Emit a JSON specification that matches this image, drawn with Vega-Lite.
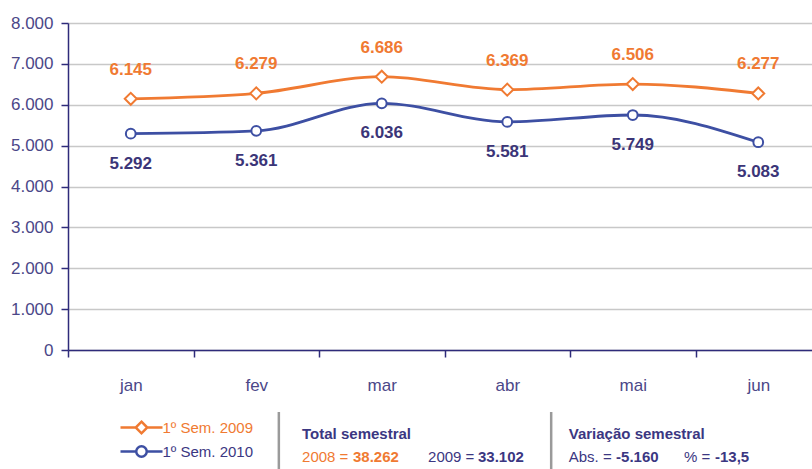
{
  "$schema": "https://vega.github.io/schema/vega-lite/v6.json",
  "width": 753,
  "height": 327,
  "autosize": {"type": "none"},
  "padding": {"left": 68, "top": 23, "right": 0, "bottom": 119},
  "background": "white",
  "config": {
    "locale": {"number": {"decimal": ",", "thousands": ".", "grouping": [3], "currency": ["", " €"]}},
    "view": {"stroke": null},
    "font": "Liberation Sans",
    "legend": {"padding": 0}
  },
  "layer": [
    {
      "data": {
        "values": [
          {"mes": "jan", "serie": "1º Sem. 2009", "valor": 6145},
          {"mes": "fev", "serie": "1º Sem. 2009", "valor": 6279},
          {"mes": "mar", "serie": "1º Sem. 2009", "valor": 6686},
          {"mes": "abr", "serie": "1º Sem. 2009", "valor": 6369},
          {"mes": "mai", "serie": "1º Sem. 2009", "valor": 6506},
          {"mes": "jun", "serie": "1º Sem. 2009", "valor": 6277},
          {"mes": "jan", "serie": "1º Sem. 2010", "valor": 5292},
          {"mes": "fev", "serie": "1º Sem. 2010", "valor": 5361},
          {"mes": "mar", "serie": "1º Sem. 2010", "valor": 6036},
          {"mes": "abr", "serie": "1º Sem. 2010", "valor": 5581},
          {"mes": "mai", "serie": "1º Sem. 2010", "valor": 5749},
          {"mes": "jun", "serie": "1º Sem. 2010", "valor": 5083}
        ]
      },
      "encoding": {
        "x": {
          "field": "mes", "type": "nominal",
          "scale": {"type": "band", "domain": ["jan", "fev", "mar", "abr", "mai", "jun"], "paddingInner": 0, "paddingOuter": 0},
          "axis": {
            "title": null, "labelAngle": 0, "tickBand": "extent", "tickSize": 7, "tickColor": "#2e2b7a", "tickWidth": 1.5,
            "domainColor": "#2e2b7a", "domainWidth": 1.5, "labelFont": "Liberation Sans", "labelFontSize": 17,
            "labelColor": "#4b4788", "labelPadding": 20, "grid": false
          }
        },
        "y": {
          "field": "valor", "type": "quantitative",
          "scale": {"domain": [0, 8000], "nice": false},
          "axis": {
            "title": null, "values": [0, 1000, 2000, 3000, 4000, 5000, 6000, 7000, 8000], "format": ",d",
            "tickSize": 7, "tickColor": "#2e2b7a", "tickWidth": 1.5, "domainColor": "#2e2b7a", "domainWidth": 1.5,
            "grid": true, "gridColor": "#c8c8c8", "gridWidth": 1.5, "labelFont": "Liberation Sans",
            "labelFontSize": 17, "labelColor": "#4b4788", "labelPadding": 8
          }
        },
        "color": {
          "field": "serie", "type": "nominal",
          "scale": {"domain": ["1º Sem. 2009", "1º Sem. 2010"], "range": ["#f07a32", "#3d4fa3"]},
          "legend": {
            "title": null, "orient": "none", "legendX": 61.5, "legendY": 392.5, "symbolSize": 441, "symbolStrokeWidth": 2.5,
            "symbolFillColor": "white", "symbolOpacity": 1,
            "labelFont": "Liberation Sans", "labelFontSize": 15, "labelOffset": 9, "rowPadding": 1, "padding": 0,
            "encode": {
              "symbols": {"update": {
                "shape": {"signal": "datum.value === '1º Sem. 2009' ? 'M-2,0H-0.55M0.55,0H2M0,-0.55L0.55,0L0,0.55L-0.55,0Z' : 'M-2,0H-0.5M0.5,0H2M0.5,0A0.5,0.5 0 1 1 -0.5,0A0.5,0.5 0 1 1 0.5,0Z'"},
                "fill": {"value": "white"}, "fillOpacity": {"value": 1}, "opacity": {"value": 1}
              }},
              "labels": {"update": {"fill": {"signal": "datum.value === '1º Sem. 2009' ? '#f07a32' : '#3b3782'"}}}
            }
          }
        }
      },
      "layer": [
        {
          "mark": {"type": "line", "interpolate": "monotone", "strokeWidth": 2.8}
        },
        {
          "transform": [{"filter": "datum.serie === '1º Sem. 2009'"}],
          "mark": {"type": "point", "shape": "diamond", "size": 144, "filled": false, "fill": "white", "fillOpacity": 1, "opacity": 1, "strokeWidth": 2}
        },
        {
          "transform": [{"filter": "datum.serie === '1º Sem. 2010'"}],
          "mark": {"type": "point", "shape": "circle", "size": 95, "filled": false, "fill": "white", "fillOpacity": 1, "opacity": 1, "strokeWidth": 2}
        },
        {
          "transform": [{"filter": "datum.serie === '1º Sem. 2009'"}],
          "mark": {"type": "text", "dy": -29, "fontWeight": "bold", "fontSize": 17, "font": "Liberation Sans", "color": "#f07a32", "baseline": "middle"},
          "encoding": {"text": {"field": "valor", "type": "quantitative", "format": ",d"}, "color": {"value": "#f07a32"}}
        },
        {
          "transform": [{"filter": "datum.serie === '1º Sem. 2010'"}],
          "mark": {"type": "text", "dy": 30, "fontWeight": "bold", "fontSize": 17, "font": "Liberation Sans", "color": "#3b3578", "baseline": "middle"},
          "encoding": {"text": {"field": "valor", "type": "quantitative", "format": ",d"}, "color": {"value": "#3b3578"}}
        }
      ]
    },
    {
      "data": {"values": [{"ref": "fev"}]},
      "mark": {"type": "rule", "color": "#9a9a9a", "strokeWidth": 2.5},
      "encoding": {"x": {"datum": "fev", "bandPosition": 0.68}, "y": {"datum": -1517}, "y2": {"datum": -3000}}
    },
    {
      "data": {"values": [{"ref": "abr"}]},
      "mark": {"type": "rule", "color": "#9a9a9a", "strokeWidth": 2.5},
      "encoding": {"x": {"datum": "abr", "bandPosition": 0.85}, "y": {"datum": -1517}, "y2": {"datum": -3000}}
    },
    {
      "data": {"values": [{"t": "Total semestral"}]},
      "mark": {"type": "text", "align": "left", "baseline": "middle", "fontWeight": "bold", "fontSize": 15, "font": "Liberation Sans", "color": "#3b3782"},
      "encoding": {"x": {"datum": "fev", "bandPosition": 0.865}, "y": {"datum": -2055}, "text": {"field": "t", "type": "nominal"}}
    },
    {
      "data": {"values": [{"t": "2008  ="}]},
      "mark": {"type": "text", "align": "left", "baseline": "middle", "fontSize": 15, "font": "Liberation Sans", "color": "#f07a32"},
      "encoding": {"x": {"datum": "fev", "bandPosition": 0.865}, "y": {"datum": -2618}, "text": {"field": "t", "type": "nominal"}}
    },
    {
      "data": {"values": [{"t": "38.262"}]},
      "mark": {"type": "text", "align": "left", "baseline": "middle", "fontWeight": "bold", "fontSize": 15, "font": "Liberation Sans", "color": "#f07a32"},
      "encoding": {"x": {"datum": "mar", "bandPosition": 0.271}, "y": {"datum": -2618}, "text": {"field": "t", "type": "nominal"}}
    },
    {
      "data": {"values": [{"t": "2009  ="}]},
      "mark": {"type": "text", "align": "left", "baseline": "middle", "fontSize": 15, "font": "Liberation Sans", "color": "#3b3782"},
      "encoding": {"x": {"datum": "mar", "bandPosition": 0.869}, "y": {"datum": -2618}, "text": {"field": "t", "type": "nominal"}}
    },
    {
      "data": {"values": [{"t": "33.102"}]},
      "mark": {"type": "text", "align": "left", "baseline": "middle", "fontWeight": "bold", "fontSize": 15, "font": "Liberation Sans", "color": "#3b3782"},
      "encoding": {"x": {"datum": "abr", "bandPosition": 0.267}, "y": {"datum": -2618}, "text": {"field": "t", "type": "nominal"}}
    },
    {
      "data": {"values": [{"t": "Variação semestral"}]},
      "mark": {"type": "text", "align": "left", "baseline": "middle", "fontWeight": "bold", "fontSize": 15, "font": "Liberation Sans", "color": "#3b3782"},
      "encoding": {"x": {"datum": "abr", "bandPosition": 0.99}, "y": {"datum": -2055}, "text": {"field": "t", "type": "nominal"}}
    },
    {
      "data": {"values": [{"t": "Abs.  ="}]},
      "mark": {"type": "text", "align": "left", "baseline": "middle", "fontSize": 15, "font": "Liberation Sans", "color": "#3b3782"},
      "encoding": {"x": {"datum": "abr", "bandPosition": 0.99}, "y": {"datum": -2618}, "text": {"field": "t", "type": "nominal"}}
    },
    {
      "data": {"values": [{"t": "-5.160"}]},
      "mark": {"type": "text", "align": "left", "baseline": "middle", "fontWeight": "bold", "fontSize": 15, "font": "Liberation Sans", "color": "#3b3782"},
      "encoding": {"x": {"datum": "mai", "bandPosition": 0.367}, "y": {"datum": -2618}, "text": {"field": "t", "type": "nominal"}}
    },
    {
      "data": {"values": [{"t": "%  ="}]},
      "mark": {"type": "text", "align": "left", "baseline": "middle", "fontSize": 15, "font": "Liberation Sans", "color": "#3b3782"},
      "encoding": {"x": {"datum": "mai", "bandPosition": 0.908}, "y": {"datum": -2618}, "text": {"field": "t", "type": "nominal"}}
    },
    {
      "data": {"values": [{"t": "-13,5"}]},
      "mark": {"type": "text", "align": "left", "baseline": "middle", "fontWeight": "bold", "fontSize": 15, "font": "Liberation Sans", "color": "#3b3782"},
      "encoding": {"x": {"datum": "jun", "bandPosition": 0.155}, "y": {"datum": -2618}, "text": {"field": "t", "type": "nominal"}}
    }
  ]
}
